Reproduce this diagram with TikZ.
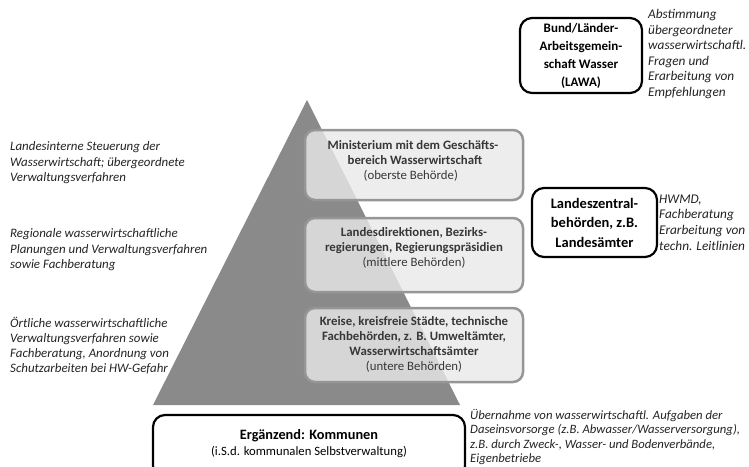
\documentclass[tikz,border=0pt]{standalone}
\usepackage{fontspec}
\setmainfont{Carlito}
\definecolor{pyramide}{RGB}{138,138,138}
\definecolor{amtfill}{RGB}{233,233,233}
\definecolor{amtrand}{RGB}{150,150,150}
\definecolor{amtschrift}{RGB}{55,55,55}
\definecolor{notizschrift}{RGB}{35,35,35}

\begin{document}
\begin{tikzpicture}[x=1pt,y=-1pt,
	amt/.style={draw=amtrand,line width=2.5pt,rounded corners=10pt,fill=amtfill,fill opacity=0.8,minimum width=218pt},
	amttext/.style={text=amtschrift,inner sep=0pt,font=\fontsize{12.8}{14.8}\selectfont},
	gremium/.style={draw=black,line width=2.2pt,rounded corners=12pt,fill=white,align=center,font=\fontsize{13}{18}\selectfont\bfseries},
	notiz/.style={anchor=west,inner sep=0pt,align=left,text=notizschrift,font=\fontsize{13.3}{15.6}\selectfont\itshape}]
\useasboundingbox (0,0) rectangle (749,466);
\fill[pyramide] (307,100) -- (460,405) -- (153,405) -- cycle;

\node[amt,minimum height=70pt] (oberste) at (414,165) {};
\node[amt,minimum height=74pt] (mittlere) at (414,255) {};
\node[amt,minimum height=74pt] (untere) at (414,345) {};
\node[amttext,align=left] (obersteText) at (413,161) {\textbf{Ministerium mit dem Geschäfts-}\\\hspace*{20pt}\textbf{bereich Wasserwirtschaft}\\\hspace*{36pt}(oberste Behörde)};
\node[amttext,align=center] (mittlereText) at (414,248) {\textbf{Landesdirektionen, Bezirks-}\\\textbf{regierungen, Regierungspräsidien}\\(mittlere Behörden)};
\node[amttext,align=center] (untereText) at (414,344.5) {\textbf{Kreise, kreisfreie Städte, technische}\\\textbf{Fachbehörden, z. B. Umweltämter,}\\\textbf{Wasserwirtschaftsämter}\\(untere Behörden)};

\node[gremium,minimum width=122pt,minimum height=75pt] (lawa) at (581,55.5) {Bund/Länder-\\Arbeitsgemein-\\schaft Wasser\\(LAWA)};
\node[gremium,minimum width=125pt,minimum height=69pt,font=\fontsize{14.5}{19.5}\selectfont\bfseries] (landeszentral) at (594.5,222.5) {Landeszentral-\\behörden, z.B.\\Landesämter};
\node[gremium,minimum width=312pt,minimum height=63pt] (kommunen) at (309,446.5) {};
\node[align=center,inner sep=0pt,font=\fontsize{12.7}{16.5}\selectfont] (kommunenText) at (309,443.5) {\fontsize{14.3}{16.5}\selectfont\textbf{Ergänzend: Kommunen}\\(i.S.d. kommunalen Selbstverwaltung)};

\node[notiz] (lawaNotiz) at (648,54) {Abstimmung\\übergeordneter\\wasserwirtschaftl.\\Fragen und\\Erarbeitung von\\Empfehlungen};
\node[notiz] (landesNotiz) at (659,222.5) {HWMD,\\Fachberatung\\Erarbeitung von\\techn. Leitlinien};
\node[notiz,font=\fontsize{12.7}{14.5}\selectfont\itshape] (kommunenNotiz) at (470,437) {Übernahme von wasserwirtschaftl. Aufgaben der\\Daseinsvorsorge (z.B. Abwasser/Wasserversorgung),\\z.B. durch Zweck-, Wasser- und Bodenverbände,\\Eigenbetriebe};

\node[notiz,font=\fontsize{12.9}{15.5}\selectfont\itshape] (obersteNotiz) at (10,163) {Landesinterne Steuerung der\\Wasserwirtschaft; übergeordnete\\Verwaltungsverfahren};
\node[notiz,font=\fontsize{12.9}{15.5}\selectfont\itshape] (mittlereNotiz) at (10,250) {Regionale wasserwirtschaftliche\\Planungen und Verwaltungsverfahren\\sowie Fachberatung};
\node[notiz,font=\fontsize{12.9}{15}\selectfont\itshape] (untereNotiz) at (10,345.5) {Örtliche wasserwirtschaftliche\\Verwaltungsverfahren sowie\\Fachberatung, Anordnung von\\Schutzarbeiten bei HW-Gefahr};
\end{tikzpicture}
\end{document}
